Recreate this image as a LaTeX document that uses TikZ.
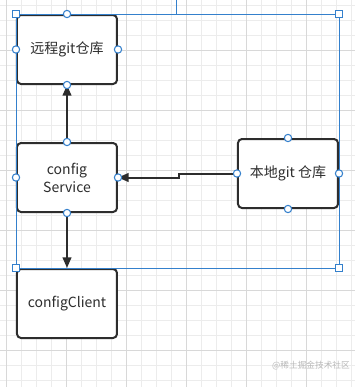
\documentclass[tikz,border=0pt]{standalone}
\usepackage{fontspec}
\setmainfont{Noto Sans CJK SC}
\usetikzlibrary{arrows.meta,positioning}
\definecolor{selblue}{RGB}{52,128,204}
\definecolor{ink}{RGB}{45,45,45}
\definecolor{gridminor}{RGB}{236,236,236}
\definecolor{gridmajor}{RGB}{216,216,216}

\begin{document}
\begin{tikzpicture}[
  x=0.75pt, y=-0.75pt,
  node distance=42.75pt and 89.25pt,
  b/.style={draw=ink, line width=1.5pt, rounded corners=3pt, fill=white, minimum width=75pt, minimum height=51.75pt, align=center, font=\fontsize{10.5}{13.5}\selectfont, text=ink},
  a/.style={-{Triangle[length=8pt,width=6.5pt]}, draw=ink, line width=1.5pt},
  pt/.style={circle, draw=selblue, fill=white, line width=0.8pt, inner sep=0pt, minimum size=5.5pt},
  hd/.style={draw=selblue, fill=white, line width=0.8pt, inner sep=0pt, minimum size=5pt},
  sel/.style={draw=selblue, line width=0.6pt}
]
  \useasboundingbox[fill=white] (0,0) rectangle (355,387);
  % editor grid
  \foreach \gx in {6.7,21.7,...,351.7} \draw[gridminor, line width=0.6pt] (\gx,0) -- (\gx,387);
  \foreach \gy in {5,20,...,380} \draw[gridminor, line width=0.6pt] (0,\gy) -- (355,\gy);
  \foreach \gx in {6.7,66.7,...,306.7} \draw[gridmajor, line width=0.6pt] (\gx,0) -- (\gx,387);
  \foreach \gy in {50,110,...,350} \draw[gridmajor, line width=0.6pt] (0,\gy) -- (355,\gy);

  \node[b] (b1) at (67,49.5) {远程git仓库};
  \node[b, below=of b1] (b2) {config\\Service};
  \node[b, below=41.25pt of b2] (b3) {configClient};
  \node[b, right=of b2, yshift=3pt] (b4) {本地git 仓库};

  \draw[a] (b2.north) -- (b1.south);
  \draw[a] (b2.south) -- (b3.north);
  \draw[a] (b4.west) -- ++(-58,0) |- (b2.east);

  % selection frame
  \coordinate (rot) at (176,0);
  \draw[sel] (b1.north west) rectangle (b4.east |- b3.north);
  \draw[sel] (rot) -- (rot |- b1.north);
  \node[hd] (h1) at (b1.north west) {};
  \node[hd] (h2) at (b4.east |- b1.north) {};
  \node[hd] (h3) at (b3.north west) {};
  \node[hd] (h4) at (b4.east |- b3.north) {};
  \foreach \n in {b1,b2,b4}
    \foreach \s in {north,south,east,west}
      \node[pt] (\n-\s) at (\n.\s) {};

  \node[font=\fontsize{6.5}{8}\selectfont, text=black!28] (wm) at (311,366) {@稀土掘金技术社区};
\end{tikzpicture}
\end{document}
